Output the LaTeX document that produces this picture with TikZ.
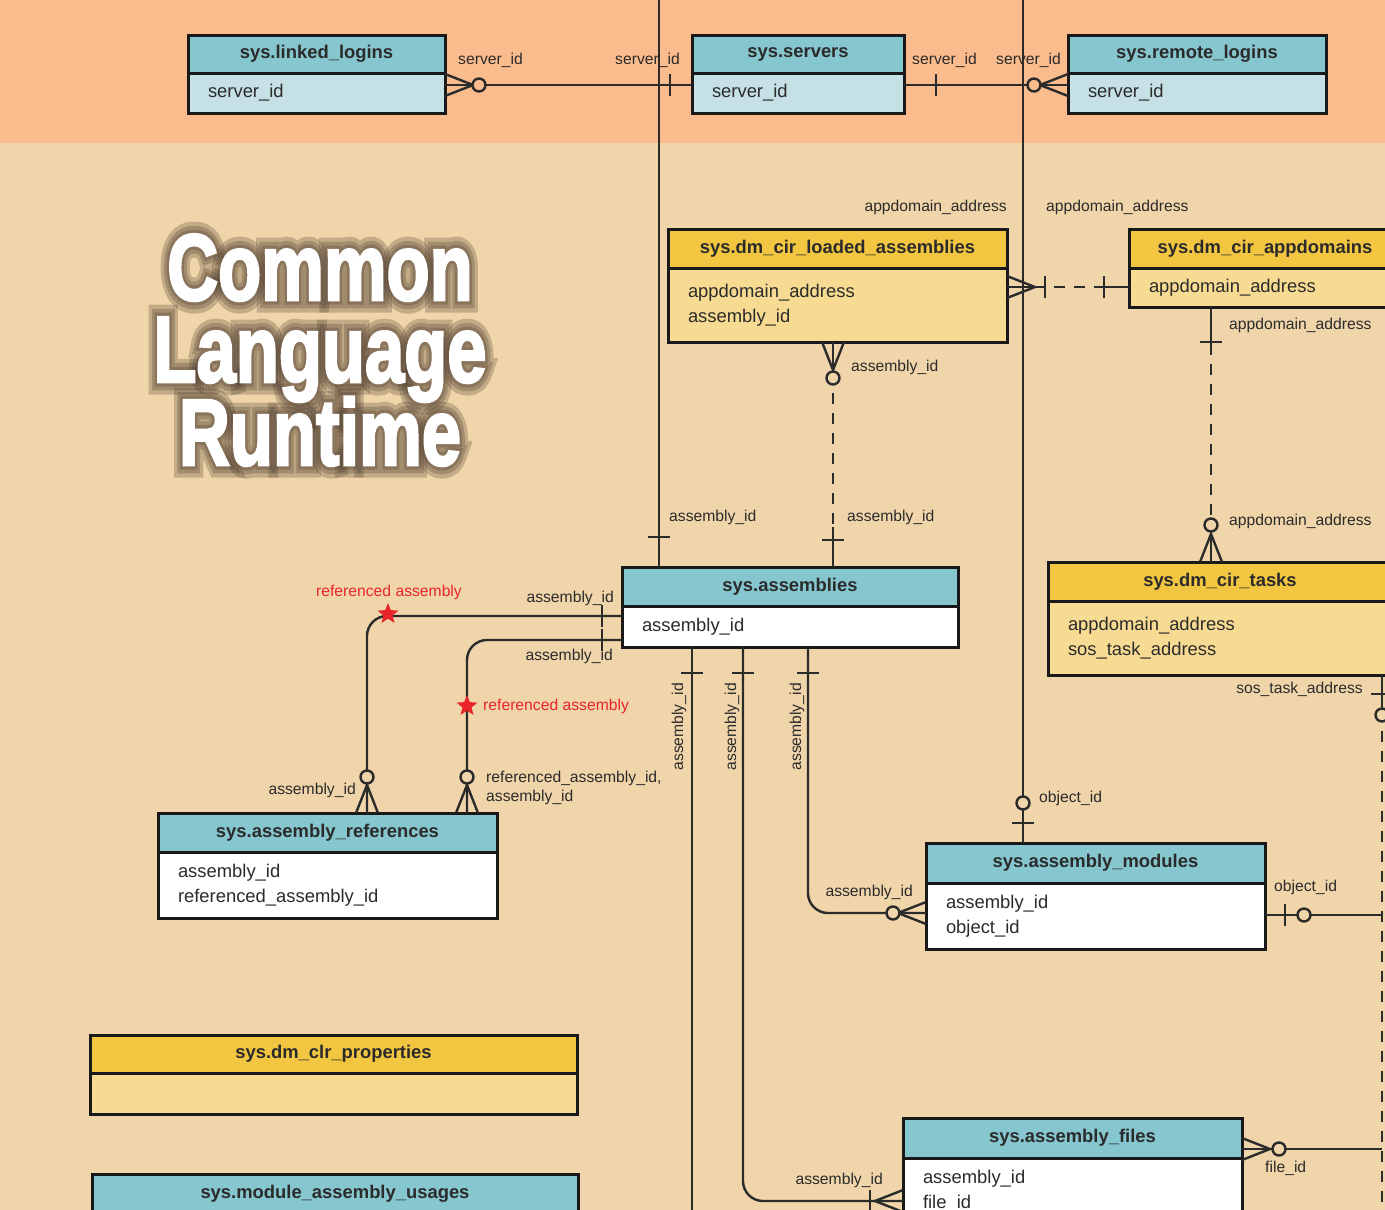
\documentclass[tikz,border=0pt]{standalone}
\usepackage{fontspec}
\setmainfont{Liberation Sans}
\newfontfamily\titlefont{Liberation Sans}[BoldFeatures={FakeBold=3}]
\newfontfamily\glowfonta{Liberation Sans}[BoldFeatures={FakeBold=27}]
\newfontfamily\glowfontb{Liberation Sans}[BoldFeatures={FakeBold=18}]
\newfontfamily\glowfontc{Liberation Sans}[BoldFeatures={FakeBold=10}]
\usetikzlibrary{shapes.geometric,calc}

\definecolor{topband}{HTML}{FBBC8D}
\definecolor{bgtan}{HTML}{F1D5AA}
\definecolor{hdrblue}{HTML}{86C6CE}
\definecolor{bodyblue}{HTML}{C6E1E5}
\definecolor{hdryellow}{HTML}{F2C640}
\definecolor{bodyyellow}{HTML}{F7DB92}
\definecolor{ink}{HTML}{2B2B2B}
\definecolor{refred}{HTML}{E8252B}
\definecolor{glow}{HTML}{4A3A2C}

\tikzset{
  erline/.style={draw=ink,line width=2.4pt},
  erdash/.style={erline,dash pattern=on 11pt off 9pt,dash phase=11pt},
  tblhead/.style={draw=black!90,line width=3pt,anchor=north west,outer sep=0pt,
    inner sep=0pt,minimum height=39pt,text=ink,font=\fontsize{18.4}{22}\selectfont\bfseries},
  tblbody/.style={draw=black!90,line width=3pt,anchor=north west,outer sep=0pt,
    inner xsep=20pt,inner ysep=0pt,align=left,text=ink,font=\fontsize{18.4}{25.5}\selectfont},
  lbl/.style={inner sep=0pt,text=ink,font=\fontsize{15.7}{19}\selectfont},
  redlbl/.style={lbl,text=refred},
  refstar/.style={star,star points=5,star point ratio=2.3,fill=refred,minimum size=22pt,inner sep=0pt},
  titletxt/.style={anchor=base,inner sep=0pt,text=white,font=\titlefont\bfseries\fontsize{94}{94}\selectfont},
  glowtxt/.style={anchor=base,inner sep=0pt,text=glow,text opacity=0.27,font=#1\bfseries\fontsize{94}{94}\selectfont}
}

% crow's foot, bar and ring at a table end, #2 = direction away from the table
\newcommand{\crowfoot}[2]{\begin{scope}[shift={(#1)},rotate=#2]
  \draw[erline] (0,11) -- (28,0) -- (0,-11);
\end{scope}}
\newcommand{\onebar}[3]{\begin{scope}[shift={(#1)},rotate=#2]
  \draw[erline] (#3,11) -- (#3,-11);
\end{scope}}
\newcommand{\zeroring}[4][bgtan]{\begin{scope}[shift={(#2)},rotate=#3]
  \draw[erline,fill=#1] (#4,0) circle (6.5pt);
\end{scope}}

\begin{document}
\begin{tikzpicture}[x=1pt,y=1pt]
\useasboundingbox (0,0) rectangle (1385,-1210);
\clip (0,0) rectangle (1385,-1210);
\fill[bgtan] (0,0) rectangle (1385,-1210);
\fill[topband] (0,0) rectangle (1385,-143);

% title
\foreach \g/\k in {\glowfonta/a,\glowfontb/b,\glowfontc/c} {
  \node[glowtxt=\g] (glow1\k) at (320,-300) {\scalebox{0.75}[1]{Common}};
  \node[glowtxt=\g] (glow2\k) at (320,-382) {\scalebox{0.75}[1]{Language}};
  \node[glowtxt=\g] (glow3\k) at (320,-465) {\scalebox{0.75}[1]{Runtime}};
}
\node[titletxt] (title1) at (320,-300) {\scalebox{0.75}[1]{Common}};
\node[titletxt] (title2) at (320,-382) {\scalebox{0.75}[1]{Language}};
\node[titletxt] (title3) at (320,-465) {\scalebox{0.75}[1]{Runtime}};

% tables
\node[tblhead,fill=hdrblue,minimum width=257pt,minimum height=38pt] (ll) at (188,-35) {sys.linked\_logins};
\node[tblbody,fill=bodyblue,text width=217pt,minimum height=40pt] (ll-b) at (ll.south west) {server\_id};

\node[tblhead,fill=hdrblue,minimum width=212pt,minimum height=38pt] (srv) at (692,-35) {sys.servers};
\node[tblbody,fill=bodyblue,text width=172pt,minimum height=40pt] (srv-b) at (srv.south west) {server\_id};

\node[tblhead,fill=hdrblue,minimum width=258pt,minimum height=38pt] (rl) at (1068,-35) {sys.remote\_logins};
\node[tblbody,fill=bodyblue,text width=218pt,minimum height=40pt] (rl-b) at (rl.south west) {server\_id};

\node[tblhead,fill=hdryellow,minimum width=339pt] (la) at (668,-229) {sys.dm\_cir\_loaded\_assemblies};
\node[tblbody,fill=bodyyellow,text width=299pt,minimum height=74pt] (la-b) at (la.south west) {appdomain\_address\\assembly\_id};

\node[tblhead,fill=hdryellow,minimum width=272pt] (ad) at (1129,-229) {sys.dm\_cir\_appdomains};
\node[tblbody,fill=bodyyellow,text width=232pt,minimum height=39pt] (ad-b) at (ad.south west) {appdomain\_address};

\node[tblhead,fill=hdrblue,minimum width=336pt] (asm) at (622,-567) {sys.assemblies};
\node[tblbody,fill=white,text width=296pt,minimum height=41pt] (asm-b) at (asm.south west) {assembly\_id};

\node[tblhead,fill=hdryellow,minimum width=344pt] (tk) at (1048,-562) {sys.dm\_cir\_tasks};
\node[tblbody,fill=bodyyellow,text width=304pt,minimum height=74pt] (tk-b) at (tk.south west) {appdomain\_address\\sos\_task\_address};

\node[tblhead,fill=hdrblue,minimum width=339pt] (ar) at (158,-813) {sys.assembly\_references};
\node[tblbody,fill=white,text width=299pt,minimum height=66pt] (ar-b) at (ar.south west) {assembly\_id\\referenced\_assembly\_id};

\node[tblhead,fill=hdrblue,minimum width=339pt,minimum height=40pt] (am) at (926,-843) {sys.assembly\_modules};
\node[tblbody,fill=white,text width=299pt,minimum height=66pt] (am-b) at (am.south west) {assembly\_id\\object\_id};

\node[tblhead,fill=hdryellow,minimum width=487pt,minimum height=38pt] (cp) at (90,-1035) {sys.dm\_clr\_properties};
\node[tblbody,fill=bodyyellow,text width=447pt,minimum height=41pt] (cp-b) at (cp.south west) {};

\node[tblhead,fill=hdrblue,minimum width=486pt] (mau) at (92,-1174) {sys.module\_assembly\_usages};
\node[tblbody,fill=white,text width=446pt,minimum height=60pt] (mau-b) at (mau.south west) {};

\node[tblhead,fill=hdrblue,minimum width=339pt,minimum height=40pt] (af) at (903,-1118) {sys.assembly\_files};
\node[tblbody,fill=white,text width=299pt,minimum height=66pt] (af-b) at (af.south west) {assembly\_id\\file\_id};

% connector ends
\coordinate (llr) at ([yshift=-12pt]ll-b.north east);
\coordinate (srvl) at ([yshift=-12pt]srv-b.north west);
\coordinate (srvr) at ([yshift=-12pt]srv-b.north east);
\coordinate (rll) at ([yshift=-12pt]rl-b.north west);
\coordinate (top1) at (659,0);
\coordinate (asmt1) at ([xshift=37pt]asm.north west);
\coordinate (top2) at (1023,0);
\coordinate (amt) at ([xshift=97pt]am.north west);
\coordinate (lar) at ([yshift=-19pt]la-b.north east);
\coordinate (adl) at ([yshift=-19pt]ad-b.north west);
\coordinate (lab) at ([xshift=165pt]la-b.south west);
\coordinate (asmt2) at ([xshift=211pt]asm.north west);
\coordinate (adb) at ([xshift=82pt]ad-b.south west);
\coordinate (tkt) at ([xshift=163pt]tk.north west);
\coordinate (tkb) at ([xshift=334pt]tk-b.south west);
\coordinate (bot3) at (1382,-1210);
\coordinate (amr) at ([yshift=-32pt]am-b.north east);
\coordinate (amx) at (1382,-915);
\coordinate (afr) at ([yshift=-31pt]af.north east);
\coordinate (afx) at (1382,-1149);
\coordinate (asml1) at ([yshift=-10pt]asm-b.north west);
\coordinate (art1) at ([xshift=209pt]ar.north west);
\coordinate (asml2) at ([yshift=-34pt]asm-b.north west);
\coordinate (art2) at ([xshift=309pt]ar.north west);
\coordinate (asmb1) at ([xshift=70pt]asm-b.south west);
\coordinate (bot1) at (692,-1210);
\coordinate (asmb2) at ([xshift=121pt]asm-b.south west);
\coordinate (afl) at ([yshift=-43pt]af-b.north west);
\coordinate (asmb3) at ([xshift=186pt]asm-b.south west);
\coordinate (aml) at ([yshift=-30pt]am-b.north west);

% servers
\draw[erline] (llr) -- (srvl);
\crowfoot{llr}{0} \zeroring[topband]{llr}{0}{34}
\onebar{srvl}{180}{22}
\draw[erline] (srvr) -- (rll);
\onebar{srvr}{0}{32}
\crowfoot{rll}{180} \zeroring[topband]{rll}{180}{34}

% long lines from above
\draw[erline] (top1) -- (asmt1);
\onebar{asmt1}{90}{30}
\draw[erline] (top2) -- (amt);
\onebar{amt}{90}{20} \zeroring{amt}{90}{40}

% appdomains
\draw[erline] (lar) -- ([xshift=38pt]lar);
\draw[erdash] ([xshift=38pt]lar) -- ([xshift=-25pt]adl);
\draw[erline] ([xshift=-25pt]adl) -- (adl);
\crowfoot{lar}{0} \onebar{lar}{0}{38}
\onebar{adl}{180}{25}

\draw[erline] (lab) -- ([yshift=-42pt]lab);
\draw[erdash] ([yshift=-42pt]lab) -- ([yshift=40pt]asmt2);
\draw[erline] ([yshift=40pt]asmt2) -- (asmt2);
\crowfoot{lab}{-90} \zeroring{lab}{-90}{36}
\onebar{asmt2}{90}{27}

\draw[erline] (adb) -- ([yshift=-48pt]adb);
\draw[erdash] ([yshift=-48pt]adb) -- ([yshift=44pt]tkt);
\draw[erline] ([yshift=44pt]tkt) -- (tkt);
\onebar{adb}{-90}{35}
\crowfoot{tkt}{90} \zeroring{tkt}{90}{37}

\draw[erline] (tkb) -- ([yshift=-34pt]tkb);
\draw[erdash] ([yshift=-47pt]tkb) -- (bot3);
\onebar{tkb}{-90}{19} \zeroring{tkb}{-90}{40}

\draw[erline] (amr) -- (amx);
\onebar{amr}{0}{20} \zeroring{amr}{0}{39}
\draw[erline] (afr) -- (afx);
\crowfoot{afr}{0} \zeroring{afr}{0}{37}

% assembly references
\draw[erline,rounded corners=20pt] (asml1) -- (asml1 -| art1) -- (art1);
\onebar{asml1}{180}{20}
\crowfoot{art1}{90} \zeroring{art1}{90}{36}
\draw[erline,rounded corners=20pt] (asml2) -- (asml2 -| art2) -- (art2);
\onebar{asml2}{180}{20}
\crowfoot{art2}{90} \zeroring{art2}{90}{36}
\node[refstar] (star1) at (388,-614) {};
\node[refstar] (star2) at (467,-706) {};

% assemblies downwards
\draw[erline] (asmb1) -- (bot1);
\onebar{asmb1}{-90}{26}
\draw[erline,rounded corners=20pt] (asmb2) -- (asmb2 |- afl) -- (afl);
\onebar{asmb2}{-90}{26}
\crowfoot{afl}{180} \onebar{afl}{180}{33}
\draw[erline,rounded corners=20pt] (asmb3) -- (asmb3 |- aml) -- (aml);
\onebar{asmb3}{-90}{26}
\crowfoot{aml}{180} \zeroring{aml}{180}{33}

% labels
\node[lbl,anchor=west] (l1) at (458,-60) {server\_id};
\node[lbl,anchor=east] (l2) at (680,-60) {server\_id};
\node[lbl,anchor=west] (l3) at (912,-60) {server\_id};
\node[lbl,anchor=east] (l4) at (1061,-60) {server\_id};
\node[lbl,anchor=east] (l5) at (1007,-207) {appdomain\_address};
\node[lbl,anchor=west] (l6) at (1046,-207) {appdomain\_address};
\node[lbl,anchor=west] (l7) at (851,-367) {assembly\_id};
\node[lbl,anchor=west] (l8) at (1229,-325) {appdomain\_address};
\node[lbl,anchor=west] (l9) at (669,-517) {assembly\_id};
\node[lbl,anchor=west] (l10) at (847,-517) {assembly\_id};
\node[lbl,anchor=west] (l11) at (1229,-521) {appdomain\_address};
\node[lbl,anchor=east] (l12) at (614,-598) {assembly\_id};
\node[lbl,anchor=east] (l13) at (613,-656) {assembly\_id};
\node[redlbl] (l14) at (389,-592) {referenced assembly};
\node[redlbl,anchor=west] (l15) at (483,-706) {referenced assembly};
\node[lbl,anchor=east] (l16) at (1363,-689) {sos\_task\_address};
\node[lbl,anchor=east,rotate=90] (l17) at (679,-683) {assembly\_id};
\node[lbl,anchor=east,rotate=90] (l18) at (732,-683) {assembly\_id};
\node[lbl,anchor=east,rotate=90] (l19) at (797,-683) {assembly\_id};
\node[lbl,anchor=east] (l20) at (356,-790) {assembly\_id};
\node[lbl,anchor=west,align=left] (l21) at (486,-788) {referenced\_assembly\_id,\\assembly\_id};
\node[lbl,anchor=west] (l22) at (1039,-798) {object\_id};
\node[lbl,anchor=east] (l23) at (913,-892) {assembly\_id};
\node[lbl,anchor=west] (l24) at (1274,-887) {object\_id};
\node[lbl,anchor=west] (l25) at (1265,-1168) {file\_id};
\node[lbl,anchor=east] (l26) at (883,-1180) {assembly\_id};

\end{tikzpicture}
\end{document}
